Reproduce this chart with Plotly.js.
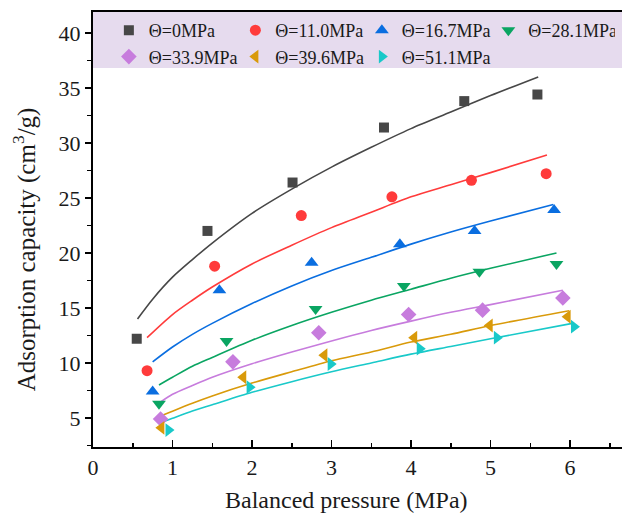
<!DOCTYPE html>
<html><head><meta charset="utf-8">
<script src="https://cdn.plot.ly/plotly-3.0.1.min.js"></script>
<style>html,body{margin:0;padding:0;background:#fff}#chart{width:622px;height:516px}</style>
</head><body><div id="chart"></div>
<script>
// Measured points (balanced pressure, MPa / adsorption capacity, cm3/g)
const names = ["Θ=0MPa","Θ=11.0MPa","Θ=16.7MPa","Θ=28.1MPa","Θ=33.9MPa","Θ=39.6MPa","Θ=51.1MPa"];
const p0  = [0.55, 1.44, 2.51, 3.66, 4.67, 5.59];
const a0  = [12.2, 22.0, 26.4, 31.4, 33.8, 34.4];
const p11 = [0.68, 1.53, 2.62, 3.76, 4.76, 5.70];
const a11 = [9.3, 18.8, 23.4, 25.1, 26.6, 27.2];
const p16 = [0.75, 1.59, 2.75, 3.86, 4.80, 5.80];
const a16 = [7.4, 16.6, 19.1, 20.8, 22.0, 23.9];
const p28 = [0.83, 1.68, 2.80, 3.91, 4.86, 5.83];
const a28 = [6.3, 12.0, 14.9, 17.0, 18.3, 19.0];
const p33 = [0.85, 1.76, 2.84, 3.97, 4.90, 5.91];
const a33 = [4.9, 10.1, 12.75, 14.4, 14.8, 15.9];
const p39 = [0.86, 1.89, 2.91, 4.04, 4.99, 5.97];
const a39 = [4.1, 8.7, 10.7, 12.3, 13.4, 14.2];
const p51 = [0.95, 1.97, 2.99, 4.11, 5.08, 6.05];
const a51 = [3.9, 7.8, 9.9, 11.3, 12.3, 13.3];

// Fitted curves
const fx0  = [0.56, 0.75, 1, 1.25, 1.5, 2, 2.5, 3, 3.5, 4, 4.5, 5, 5.60];
const fy0  = [14.0, 15.8, 17.8, 19.4, 20.9, 23.6, 25.8, 27.8, 29.6, 31.3, 32.8, 34.3, 36.0];
const fx11 = [0.68, 1, 1.25, 1.5, 2, 2.5, 3, 3.5, 4, 4.5, 5, 5.71];
const fy11 = [12.3, 14.4, 15.7, 16.9, 19.0, 20.7, 22.3, 23.7, 25.1, 26.2, 27.3, 28.9];
const fx16 = [0.75, 1, 1.25, 1.5, 2, 2.5, 3, 3.5, 4, 4.5, 5, 5.79];
const fy16 = [10.1, 11.45, 12.6, 13.6, 15.4, 17.0, 18.4, 19.6, 20.8, 21.9, 22.9, 24.4];
const fx28 = [0.83, 1, 1.25, 1.5, 2, 2.5, 3, 3.5, 4, 4.5, 5, 5.83];
const fy28 = [8.0, 8.7, 9.7, 10.5, 12.06, 13.4, 14.6, 15.7, 16.7, 17.7, 18.6, 20.0];
const fx33 = [0.86, 1, 1.25, 1.5, 2, 2.5, 3, 3.5, 4, 4.5, 5, 5.91];
const fy33 = [6.5, 7.15, 7.95, 8.7, 9.93, 11.0, 12.0, 12.95, 13.8, 14.6, 15.3, 16.6];
const fx39 = [0.86, 1, 1.25, 1.5, 2, 2.5, 3, 3.5, 4, 4.5, 5, 5.99];
const fy39 = [5.2, 5.62, 6.34, 7.0, 8.17, 9.2, 10.2, 11.0, 11.9, 12.6, 13.4, 14.75];
const fx51 = [0.90, 1, 1.25, 1.5, 2, 2.5, 3, 3.5, 4, 4.5, 5, 6.03];
const fy51 = [4.7, 4.97, 5.63, 6.2, 7.33, 8.3, 9.2, 10.0, 10.8, 11.5, 12.2, 13.6];

const xTickVals = [0, 1, 2, 3, 4, 5, 6];
const yTickVals = [5, 10, 15, 20, 25, 30, 35, 40];

const colors  = ["#474747", "#ff3b3b", "#0a6ee0", "#0aa562", "#c77cdd", "#d99a0a", "#19c9c9"];
const symbols = ["square", "circle", "triangle-up", "triangle-down", "diamond", "triangle-left", "triangle-right"];
const sizes   = [10, 11, 12, 12, 12, 12, 12];

const pts = [[p0,a0],[p11,a11],[p16,a16],[p28,a28],[p33,a33],[p39,a39],[p51,a51]];
const fits = [[fx0,fy0],[fx11,fy11],[fx16,fy16],[fx28,fy28],[fx33,fy33],[fx39,fy39],[fx51,fy51]];

const traces = [];
fits.forEach((f, i) => {
  traces.push({x: f[0], y: f[1], mode: "lines", type: "scatter", showlegend: false,
    line: {color: colors[i], width: 1.6, shape: "spline", smoothing: 0.8}, hoverinfo: "skip"});
});
pts.forEach((p, i) => {
  traces.push({x: p[0], y: p[1], mode: "markers", type: "scatter", name: names[i],
    marker: {symbol: symbols[i], size: sizes[i], color: colors[i]}});
});

const serif = "'Liberation Serif', 'Times New Roman', serif";
const layout = {
  width: 622, height: 516,
  margin: {l: 93, r: 0, t: 12, b: 69},
  paper_bgcolor: "#ffffff", plot_bgcolor: "#ffffff",
  font: {family: serif, color: "#1a1a1a"},
  xaxis: {range: [0, 6.654], tickvals: xTickVals, ticks: "inside", ticklen: 7, tickwidth: 1.5,
    tickcolor: "#000", showline: true, linecolor: "#000", linewidth: 2, mirror: true,
    showgrid: false, zeroline: false, tickfont: {family: serif, size: 22, color: "#1a1a1a"},
    minor: {dtick: 0.5, ticks: "inside", ticklen: 4, tickwidth: 1.5, tickcolor: "#000"}},
  yaxis: {range: [2.36, 41.9], tickvals: yTickVals, ticks: "outside", ticklen: 6, tickwidth: 1.5,
    tickcolor: "#000", showline: true, linecolor: "#000", linewidth: 2,
    showgrid: false, zeroline: false, tickfont: {family: serif, size: 22, color: "#1a1a1a"},
    minor: {tick0: 2.5, dtick: 5, ticks: "outside", ticklen: 4, tickwidth: 1.5, tickcolor: "#000"}},
  showlegend: true,
  legend: {orientation: "h", x: 0.03, xanchor: "left", y: 1.0, yanchor: "top",
    entrywidth: 81.5, entrywidthmode: "pixels", bgcolor: "rgba(0,0,0,0)",
    font: {family: serif, size: 18, color: "#1a1a1a"}},
  shapes: [{type: "rect", xref: "paper", yref: "paper", x0: 0, x1: 1, y0: 0.871, y1: 1,
    fillcolor: "#e6dbee", line: {width: 0}, layer: "below"}],
  annotations: [
    {text: "Balanced pressure (MPa)", xref: "paper", yref: "paper", x: 0.48, y: -0.122,
      xanchor: "center", yanchor: "middle", showarrow: false, font: {family: serif, size: 24, color: "#1a1a1a"}},
    {text: "Adsorption capacity (cm<sup>3</sup>/g)", xref: "paper", yref: "y", x: -0.128, y: 20.36,
      xanchor: "center", yanchor: "middle", textangle: -90, showarrow: false,
      font: {family: serif, size: 25, color: "#1a1a1a"}}
  ]
};
Plotly.newPlot("chart", traces, layout, {displayModeBar: false, staticPlot: true});
</script></body></html>
